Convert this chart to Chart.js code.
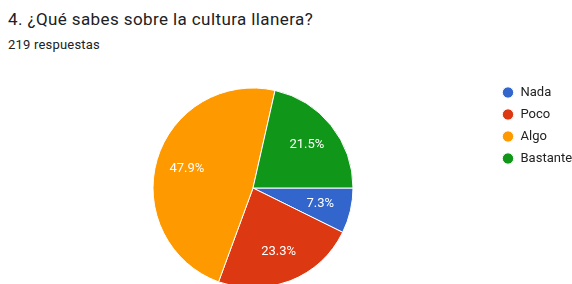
<!DOCTYPE html>
<html>
<head>
<meta charset="utf-8">
<script src="https://cdn.jsdelivr.net/npm/chart.js@4"></script>
<style>
  html, body { margin: 0; padding: 0; background: #fff; overflow: hidden; width: 572px; height: 284px; }
  #wrap { position: relative; width: 572px; height: 284px; }
  #title { position: absolute; left: 8px; top: 9px; font: 17px Roboto, sans-serif; letter-spacing: 0.4px; color: #202124; white-space: nowrap; }
  #sub { position: absolute; left: 8px; top: 37px; font: 13px Roboto, sans-serif; letter-spacing: 0.2px; color: #202124; white-space: nowrap; }
  #cv { position: absolute; left: 0; top: 0; }
</style>
</head>
<body>
<div id="wrap">
  <div id="title">4. ¿Qué sabes sobre la cultura llanera?</div>
  <div id="sub">219 respuestas</div>
  <canvas id="cv" width="572" height="300" style="width:572px;height:300px"></canvas>
</div>
<script>
const categories = ["Nada", "Poco", "Algo", "Bastante"];
const responses = [16, 51, 105, 47];
const percentLabels = ["7.3%", "23.3%", "47.9%", "21.5%"];
const sliceColors = ["#3366cc", "#dc3912", "#ff9900", "#109618"];

const sliceLabelPlugin = {
  id: "sliceLabels",
  afterDatasetsDraw(chart) {
    const ctx = chart.ctx;
    const meta = chart.getDatasetMeta(0);
    ctx.save();
    ctx.font = "13px Roboto, sans-serif";
    ctx.fillStyle = "#ffffff";
    ctx.textAlign = "center";
    ctx.textBaseline = "middle";
    meta.data.forEach((arc, i) => {
      const p = arc.getProps(["x", "y", "startAngle", "endAngle", "outerRadius"], true);
      const mid = (p.startAngle + p.endAngle) / 2;
      const r = p.outerRadius * 0.69;
      ctx.fillText(percentLabels[i], p.x + Math.cos(mid) * r, p.y + Math.sin(mid) * r);
    });
    ctx.restore();
  }
};

new Chart(document.getElementById("cv"), {
  type: "pie",
  data: {
    labels: categories,
    datasets: [{
      data: responses,
      backgroundColor: sliceColors,
      borderColor: "#ffffff",
      borderWidth: 1,
      radius: 100
    }]
  },
  plugins: [sliceLabelPlugin],
  options: {
    responsive: false,
    animation: false,
    rotation: 90,
    layout: { padding: { left: 13, right: 0, top: 77, bottom: 1 } },
    plugins: {
      tooltip: { enabled: false },
      legend: {
        position: "right",
        align: "start",
        maxWidth: 79,
        labels: {
          usePointStyle: true,
          pointStyle: "circle",
          boxWidth: 12,
          boxHeight: 8,
          padding: 9,
          color: "#222222",
          font: { family: "Roboto, sans-serif", size: 13 }
        }
      }
    }
  }
});
</script>
</body>
</html>
